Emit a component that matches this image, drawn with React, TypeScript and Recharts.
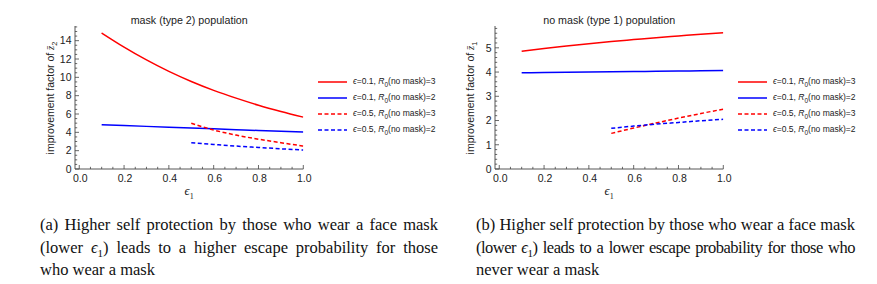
import React from "react";
import { LineChart, Line, XAxis, YAxis } from "recharts";

// epsilon_1 grid of the two families of curves
const epsFull = [0.1, 0.2, 0.3, 0.4, 0.5, 0.6, 0.7, 0.8, 0.9, 1.0];
const epsHalf = [0.5, 0.6, 0.7, 0.8, 0.9, 1.0];

// (a) mask (type 2) population, improvement factor of z2
const maskE01R3 = [14.84, 13.3, 11.9, 10.65, 9.55, 8.58, 7.73, 6.96, 6.28, 5.66];
const maskE01R2 = [4.83, 4.74, 4.65, 4.56, 4.47, 4.38, 4.29, 4.2, 4.12, 4.04];
const maskE05R3 = [5.0, 4.25, 3.7, 3.25, 2.87, 2.5];
const maskE05R2 = [2.87, 2.68, 2.5, 2.35, 2.2, 2.07];

// (b) no mask (type 1) population, improvement factor of z1
const noMaskE01R3 = [4.86, 4.97, 5.07, 5.17, 5.26, 5.34, 5.42, 5.49, 5.56, 5.62];
const noMaskE01R2 = [3.97, 3.98, 3.99, 4.0, 4.01, 4.02, 4.03, 4.04, 4.05, 4.06];
const noMaskE05R3 = [1.47, 1.69, 1.9, 2.1, 2.29, 2.47];
const noMaskE05R2 = [1.68, 1.77, 1.85, 1.92, 1.99, 2.05];

const legendEps = ["0.1", "0.1", "0.5", "0.5"];
const legendR0 = ["3", "2", "3", "2"];
const seriesColors = ["#ff0000", "#0000ff", "#ff0000", "#0000ff"];
const seriesDash = [undefined, undefined, "4 2.5", "4 2.5"];

const xMajor = [0, 0.2, 0.4, 0.6, 0.8, 1.0];
const maskYMajor = [0, 2, 4, 6, 8, 10, 12, 14];
const noMaskYMajor = [0, 1, 2, 3, 4, 5];

const captionA = [
  "(a) Higher self protection by those who wear a face mask",
  ["(lower ", ") leads to a higher escape probability for those"],
  "who wear a mask",
];
const captionB = [
  "(b) Higher self protection by those who wear a face mask",
  ["(lower ", ") leads to a lower escape probability for those who"],
  "never wear a mask",
];

const steps = (stop: number, step: number) => {
  const out: number[] = [];
  for (let i = 0; i * step <= stop + 1e-9; i++) out.push(Number((i * step).toFixed(3)));
  return out;
};

const xTicks = steps(1, 0.05);
const maskYTicks = steps(15.5, 0.5);
const noMaskYTicks = steps(5.8, 0.2);

const zip = (xs: number[], ys: number[]) => xs.map((x, i) => ({ x, y: ys[i] }));
const isMajor = (v: number, majors: number[]) => majors.some((m) => Math.abs(m - v) < 1e-6);

const AXIS = "#444";
const TEXT = "#222";
const SANS = "'Liberation Sans', Arial, sans-serif";

const makeXTick = (majors: number[]) => (props: any) => {
  const { x, y, payload } = props;
  const major = isMajor(payload.value, majors);
  return (
    <g>
      <line x1={x} x2={x} y1={y} y2={y - (major ? 4 : 2.2)} stroke={AXIS} strokeWidth={0.8} />
      {major && (
        <text x={x + 1} y={y + 12.5} textAnchor="middle" fontSize={10.5} fill={TEXT} fontFamily={SANS}>
          {payload.value.toFixed(1)}
        </text>
      )}
    </g>
  );
};

const makeYTick = (majors: number[]) => (props: any) => {
  const { x, y, payload } = props;
  const major = isMajor(payload.value, majors);
  return (
    <g>
      <line x1={x} x2={x + (major ? 4 : 2.2)} y1={y} y2={y} stroke={AXIS} strokeWidth={0.8} />
      {major && (
        <text x={x - 3.5} y={y + 3.8} textAnchor="end" fontSize={10.5} fill={TEXT} fontFamily={SANS}>
          {payload.value}
        </text>
      )}
    </g>
  );
};

interface PanelProps {
  left: number;
  width: number;
  plotLeft: number;
  yMax: number;
  yTicks: number[];
  yMajor: number[];
  series: { x: number; y: number }[][];
  title: string;
  zSub: string;
  legendLeft: number;
}

function Panel({ left, width, plotLeft, yMax, yTicks, yMajor, series, title, zSub, legendLeft }: PanelProps) {
  const plotW = 228.3;
  const cx = left + plotLeft + plotW / 2;
  return (
    <>
      <div style={{ position: "absolute", left, top: 0 }}>
        <LineChart
          width={width}
          height={200}
          margin={{ top: 26, left: plotLeft - 1, right: width - plotLeft - plotW, bottom: 30 }}
        >
          <XAxis
            type="number"
            dataKey="x"
            domain={[-0.019, 1]}
            ticks={xTicks}
            interval={0}
            allowDataOverflow
            height={1}
            tickSize={0}
            tickMargin={0}
            axisLine={{ stroke: AXIS, strokeWidth: 0.9 }}
            tick={makeXTick(xMajor)}
          />
          <YAxis
            type="number"
            dataKey="y"
            domain={[0, yMax]}
            ticks={yTicks}
            interval={0}
            allowDataOverflow
            width={1}
            tickSize={0}
            tickMargin={0}
            axisLine={{ stroke: AXIS, strokeWidth: 0.9 }}
            tick={makeYTick(yMajor)}
          />
          {series.map((d, i) => (
            <Line
              key={i}
              data={d}
              dataKey="y"
              type="monotone"
              stroke={seriesColors[i]}
              strokeWidth={1.5}
              strokeDasharray={seriesDash[i]}
              dot={false}
              activeDot={false}
              isAnimationActive={false}
            />
          ))}
        </LineChart>
      </div>

      <div
        style={{
          position: "absolute",
          left: cx - 100,
          width: 200,
          top: 13,
          textAlign: "center",
          fontSize: 10.7,
          fontFamily: SANS,
          color: TEXT,
          lineHeight: "14px",
        }}
      >
        {title}
      </div>

      <div
        style={{
          position: "absolute",
          left: left + plotLeft - 25 - 100,
          top: 97.5 - 8,
          width: 200,
          height: 16,
          lineHeight: "16px",
          textAlign: "center",
          fontSize: 10.5,
          fontFamily: SANS,
          color: TEXT,
          transform: "rotate(-90deg)",
          whiteSpace: "nowrap",
        }}
      >
        improvement factor of <span style={{ fontFamily: "'Liberation Serif', serif", fontStyle: "italic" }}>z̄</span>
        <sub style={{ fontSize: 7.5 }}>{zSub}</sub>
      </div>

      <div
        style={{
          position: "absolute",
          left: cx - 30,
          width: 60,
          top: 184,
          textAlign: "center",
          fontSize: 12.5,
          fontFamily: "'Liberation Serif', serif",
          color: TEXT,
          lineHeight: "15px",
        }}
      >
        <i>ϵ</i>
        <sub style={{ fontSize: 8 }}>1</sub>
      </div>

      {legendEps.map((e, i) => (
        <div
          key={i}
          style={{
            position: "absolute",
            left: legendLeft,
            top: 82 + i * 16 - 7,
            height: 14,
            display: "flex",
            alignItems: "center",
            fontSize: 8.5,
            fontFamily: SANS,
            color: TEXT,
            whiteSpace: "nowrap",
          }}
        >
          <svg width={29} height={6} style={{ marginRight: 6 }}>
            <line x1={0} x2={29} y1={3} y2={3} stroke={seriesColors[i]} strokeWidth={1.5} strokeDasharray={seriesDash[i]} />
          </svg>
          <span>
            <i>ϵ</i>={e}, <i>R</i>
            <sub style={{ fontSize: 6.5 }}>0</sub>(no mask)={legendR0[i]}
          </span>
        </div>
      ))}
    </>
  );
}

function Caption({ left, width, lines, tight }: { left: number; width: number; lines: any[]; tight?: boolean }) {
  return (
    <>
      {lines.map((line, i) => (
        <div
          key={i}
          style={{
            position: "absolute",
            left,
            width,
            top: 215 + i * 22.7,
            fontFamily: "'Liberation Serif', 'Times New Roman', serif",
            fontSize: 16.5,
            lineHeight: "20px",
            color: "#111",
            whiteSpace: "nowrap",
            textAlign: "justify",
            textAlignLast: i < 2 ? "justify" : "left",
            letterSpacing: tight && i === 1 ? -0.5 : 0,
          }}
        >
          {Array.isArray(line) ? (
            <>
              {line[0]}
              <i>ϵ</i>
              <sub style={{ fontSize: 11 }}>1</sub>
              {line[1]}
            </>
          ) : (
            line
          )}
        </div>
      ))}
    </>
  );
}

export default function App() {
  return (
    <div style={{ position: "absolute", left: 0, top: 0, width: 877, height: 284, background: "#fff", overflow: "hidden" }}>
      <Panel
        left={0}
        width={440}
        plotLeft={75}
        yMax={15.6}
        yTicks={maskYTicks}
        yMajor={maskYMajor}
        series={[zip(epsFull, maskE01R3), zip(epsFull, maskE01R2), zip(epsHalf, maskE05R3), zip(epsHalf, maskE05R2)]}
        title="mask (type 2) population"
        zSub="2"
        legendLeft={318}
      />
      <Panel
        left={440}
        width={437}
        plotLeft={55}
        yMax={5.9}
        yTicks={noMaskYTicks}
        yMajor={noMaskYMajor}
        series={[zip(epsFull, noMaskE01R3), zip(epsFull, noMaskE01R2), zip(epsHalf, noMaskE05R3), zip(epsHalf, noMaskE05R2)]}
        title="no mask (type 1) population"
        zSub="1"
        legendLeft={738}
      />
      <Caption left={40} width={398} lines={captionA} />
      <Caption left={476} width={379} lines={captionB} tight />
    </div>
  );
}
